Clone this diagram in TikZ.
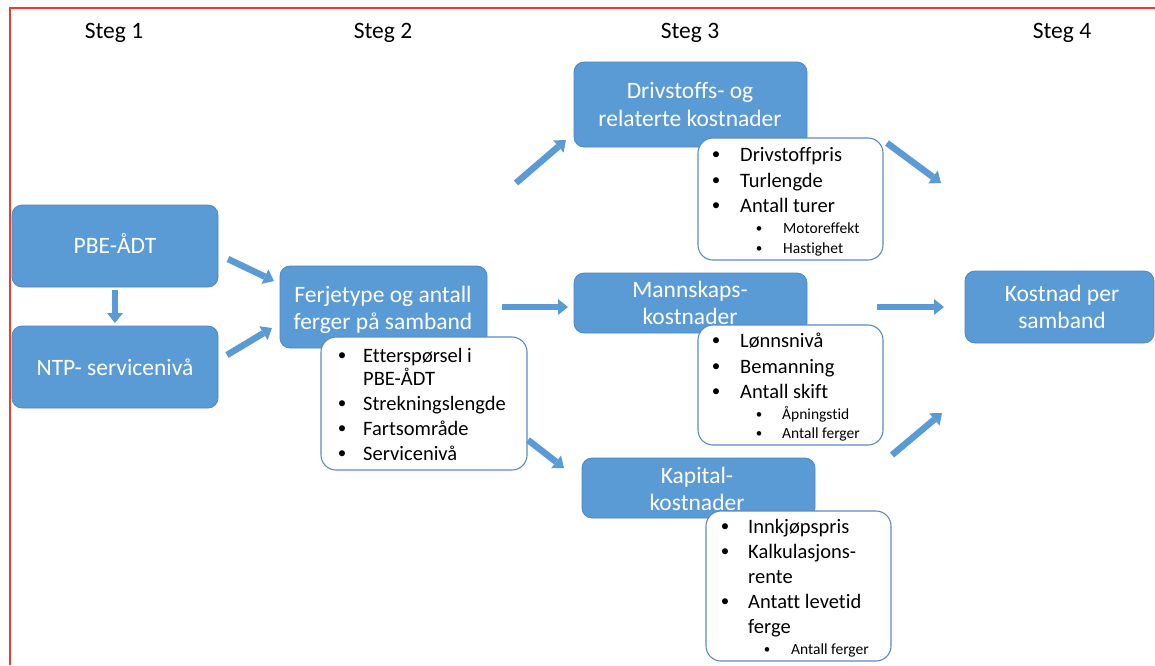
\documentclass[tikz,border=0pt]{standalone}
\usepackage{fontspec}
\setmainfont{Carlito}[Ligatures={NoCommon}]
\usetikzlibrary{arrows.meta,fit}
\definecolor{obl}{HTML}{5B9BD5}
\definecolor{obd}{HTML}{4F87C2}
\definecolor{olin}{HTML}{5A8CC4}
\definecolor{redl}{HTML}{F03A2E}
\newcommand\fT{\fontsize{23.5}{27}\selectfont}
\newcommand\fB{\fontsize{20.5}{25}\selectfont}
\newcommand\fS{\fontsize{15.5}{20}\selectfont}
\newcommand\fBb{\fontsize{17}{20}\selectfont}
\newcommand\fSb{\fontsize{13}{16}\selectfont}
\begin{document}
\begin{tikzpicture}[x=1pt,y=-1pt,
  bluebox/.style={draw=obd,line width=0.8pt,fill=obl,rounded corners=10pt,inner sep=0pt},
  listbox/.style={draw=olin,line width=1.1pt,fill=white,rounded corners=15pt,inner sep=0pt},
  ttl/.style={anchor=base,inner sep=0pt,text=white,font=\fT},
  stg/.style={anchor=base,inner sep=0pt,text=black,font=\fT},
  bt/.style={anchor=base west,inner sep=0pt,font=\fB},
  bb/.style={anchor=base,inner sep=0pt,font=\fBb},
  st/.style={anchor=base west,inner sep=0pt,font=\fS},
  sb/.style={anchor=base,inner sep=0pt,font=\fSb},
  blk/.style={draw=obl,line width=6.5pt,-{Triangle[length=10pt 0 0,width=16pt 0 0,line width=0pt 0 0]}}]
\useasboundingbox (0,0) rectangle (1155,665);
\fill[white] (0,0) rectangle (1155,665);
% red frame
\draw[redl,line width=1.6pt] (10,665) -- (10,8) -- (1155,8);
% step labels
\node[stg] (s1) at (114,38) {Steg 1};
\node[stg] (s2) at (383,38) {Steg 2};
\node[stg] (s3) at (690,38) {Steg 3};
\node[stg] (s4) at (1062,38) {Steg 4};
% blue boxes
\node[bluebox,fit={(12,205)(218,287)}] (pbe) {};
\node[bluebox,fit={(12,326)(218,408)}] (ntp) {};
\node[bluebox,fit={(280,266)(487,348)}] (ferje) {};
\node[bluebox,fit={(574,62)(807,147)}] (driv) {};
\node[bluebox,fit={(574,273)(807,333)}] (mann) {};
\node[bluebox,fit={(582,458)(815,518)}] (kap) {};
\node[bluebox,fit={(965,271)(1154,343)}] (kost) {};
% titles
\node[ttl] (t1) at (115,253) {PBE-ÅDT};
\node[ttl] (t2) at (115,375) {NTP- servicenivå};
\node[ttl] (t3a) at (383,302) {Ferjetype og antall};
\node[ttl] (t3b) at (383,329) {ferger på samband};
\node[ttl] (t4a) at (690,98) {Drivstoffs- og};
\node[ttl] (t4b) at (690,126) {relaterte kostnader};
\node[ttl] (t5a) at (690,297) {Mannskaps-};
\node[ttl] (t5b) at (690,324) {kostnader};
\node[ttl] (t6a) at (697,483) {Kapital-};
\node[ttl] (t6b) at (697,510) {kostnader};
\node[ttl] (t7a) at (1062,301) {Kostnad per};
\node[ttl] (t7b) at (1062,328) {samband};
% list boxes
\node[listbox,fit={(321,337)(527,470)}] (ferjeL) {};
\node[listbox,fit={(698,138)(883,260)}] (drivL) {};
\node[listbox,fit={(698,325)(883,445)}] (mannL) {};
\node[listbox,fit={(706,511)(891,661)}] (kapL) {};
% Ferjetype list
\node[bb] (fb1) at (342,360) {•}; \node[bt] (fl1) at (363,362) {Etterspørsel i};
\node[bt] (fl1b) at (363,385) {PBE-ÅDT};
\node[bb] (fb2) at (342,408) {•}; \node[bt] (fl2) at (363,410) {Strekningslengde};
\node[bb] (fb3) at (342,433) {•}; \node[bt] (fl3) at (363,435) {Fartsområde};
\node[bb] (fb4) at (342,458) {•}; \node[bt] (fl4) at (363,460) {Servicenivå};
% Drivstoff list
\node[bb] (db1) at (716,159) {•}; \node[bt] (dl1) at (740,161) {Drivstoffpris};
\node[bb] (db2) at (716,185) {•}; \node[bt] (dl2) at (740,187) {Turlengde};
\node[bb] (db3) at (716,210) {•}; \node[bt] (dl3) at (740,212) {Antall turer};
\node[sb] (db4) at (759,232) {•}; \node[st] (dl4) at (783,233) {Motoreffekt};
\node[sb] (db5) at (759,252) {•}; \node[st] (dl5) at (783,253) {Hastighet};
% Mannskap list
\node[bb] (mb1) at (716,345) {•}; \node[bt] (ml1) at (740,347) {Lønnsnivå};
\node[bb] (mb2) at (716,371) {•}; \node[bt] (ml2) at (740,373) {Bemanning};
\node[bb] (mb3) at (716,396) {•}; \node[bt] (ml3) at (740,398) {Antall skift};
\node[sb] (mb4) at (759,418) {•}; \node[st] (ml4) at (782,419) {Åpningstid};
\node[sb] (mb5) at (759,437) {•}; \node[st] (ml5) at (782,438) {Antall ferger};
% Kapital list
\node[bb] (kb1) at (725,531) {•}; \node[bt] (kl1) at (748,533) {Innkjøpspris};
\node[bb] (kb2) at (725,556) {•}; \node[bt] (kl2) at (748,558) {Kalkulasjons-};
\node[bt] (kl2b) at (748,583) {rente};
\node[bb] (kb3) at (725,606) {•}; \node[bt] (kl3) at (748,608) {Antatt levetid};
\node[bt] (kl3b) at (748,633) {ferge};
\node[sb] (kb4) at (767,653) {•}; \node[st] (kl4) at (791,654) {Antall ferger};
% arrow end points
\coordinate (a1s) at (115,290); \coordinate (a1e) at (115,323);
\coordinate (a2s) at (228,259); \coordinate (a2e) at (274,281);
\coordinate (a3s) at (227,355); \coordinate (a3e) at (272,328);
\coordinate (a4s) at (516,183); \coordinate (a4e) at (566,140);
\coordinate (a5s) at (502,307); \coordinate (a5e) at (568,307);
\coordinate (a6s) at (528,440); \coordinate (a6e) at (564,468);
\coordinate (a7s) at (887,143); \coordinate (a7e) at (941,183);
\coordinate (a8s) at (877,307); \coordinate (a8e) at (944,307);
\coordinate (a9s) at (892,455); \coordinate (a9e) at (942,413);
\draw[blk] (a1s) -- (a1e);
\draw[blk] (a2s) -- (a2e);
\draw[blk] (a3s) -- (a3e);
\draw[blk] (a4s) -- (a4e);
\draw[blk] (a5s) -- (a5e);
\draw[blk] (a6s) -- (a6e);
\draw[blk] (a7s) -- (a7e);
\draw[blk] (a8s) -- (a8e);
\draw[blk] (a9s) -- (a9e);
\end{tikzpicture}
\end{document}
